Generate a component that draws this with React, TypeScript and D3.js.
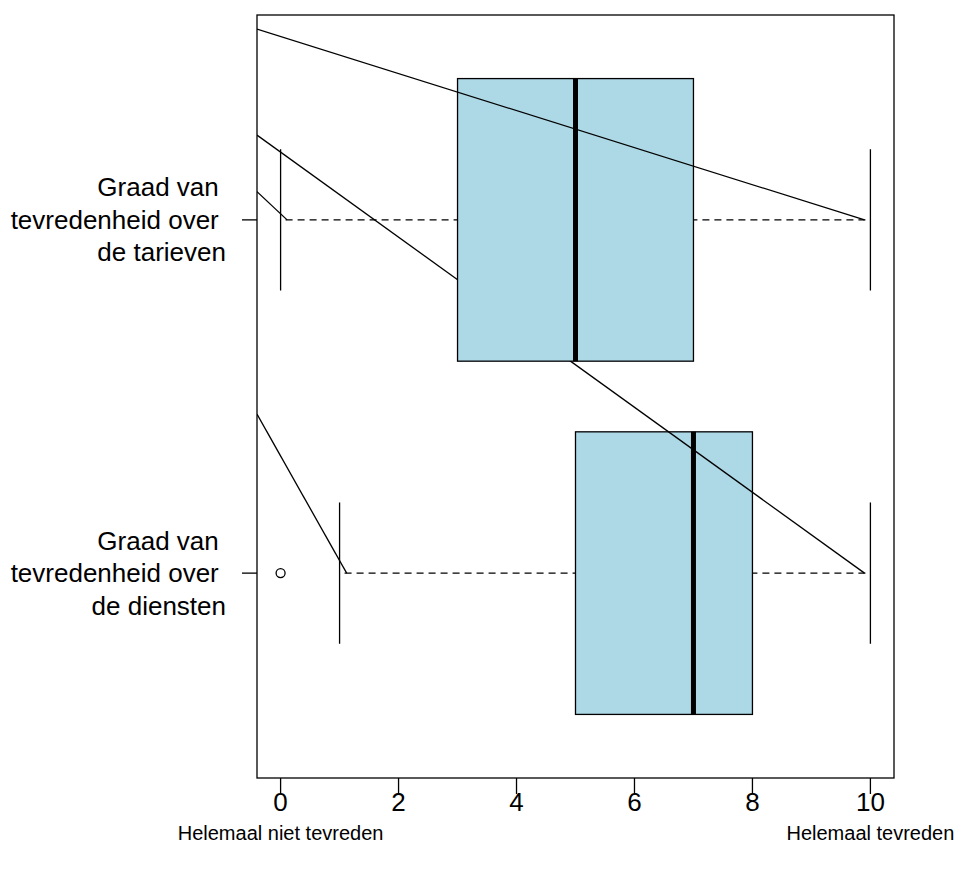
import React from 'react';
import * as d3 from 'd3';

// ---- data ----
const positions = [1, 2];
const labelLines = [
  ['Graad van ', 'tevredenheid over ', 'de diensten'],
  ['Graad van ', 'tevredenheid over ', 'de tarieven'],
];
const whiskerLow = [1, 0];
const q1 = [5, 3];
const medians = [7, 5];
const q3 = [8, 7];
const whiskerHigh = [10, 10];
const outliers = [[0], []];
const xTicks = [0, 2, 4, 6, 8, 10];
const endLabels = ['Helemaal niet tevreden', 'Helemaal tevreden'];
const endLabelValues = [0, 10];
// extra straight segments (data units), drawn after the box of segGroup
const segGroup = [1, 1, 2, 2];
const segX0 = [-0.4, -0.4, -0.4, -0.4];
const segY0 = [2.24, 1.45, 2.54, 2.08];
const segX1 = [9.9, 1.12, 9.9, 0.11];
const segY1 = [1, 1, 2, 2];

const W = 957;
const H = 873;
const FONT = '"Liberation Sans", Arial, Helvetica, sans-serif';

export default function App() {
  const x = d3.scaleLinear().domain([-0.4, 10.4]).range([257, 894]);
  const y = d3.scaleLinear().domain([0.42, 2.58]).range([778, 15]);
  const boxHalf = 0.4;
  const stapleHalf = 0.2;
  const [x0, x1] = x.range();
  const [yb, yt] = y.range();

  const groups = positions.map((p, i) => {
    const cy = y(p);
    const top = y(p + boxHalf);
    const bot = y(p - boxHalf);
    const sTop = y(p + stapleHalf);
    const sBot = y(p - stapleHalf);
    const segs = segGroup
      .map((g, k) => ({ g, k }))
      .filter((s) => s.g === p)
      .map(({ k }) => (
        <line
          key={'s' + k}
          x1={x(segX0[k])}
          y1={y(segY0[k])}
          x2={x(segX1[k])}
          y2={y(segY1[k])}
          stroke="#000"
          strokeWidth={1.3}
        />
      ));
    return (
      <g key={i}>
        <line x1={x(whiskerLow[i])} x2={x(q1[i])} y1={cy} y2={cy} stroke="#000" strokeWidth={1.3} strokeDasharray="7,5" strokeDashoffset={7} />
        <line x1={x(whiskerHigh[i])} x2={x(q3[i])} y1={cy} y2={cy} stroke="#000" strokeWidth={1.3} strokeDasharray="7,5" strokeDashoffset={7} />
        <line x1={x(whiskerLow[i])} x2={x(whiskerLow[i])} y1={sTop} y2={sBot} stroke="#000" strokeWidth={1.3} />
        <line x1={x(whiskerHigh[i])} x2={x(whiskerHigh[i])} y1={sTop} y2={sBot} stroke="#000" strokeWidth={1.3} />
        <rect x={x(q1[i])} y={top} width={x(q3[i]) - x(q1[i])} height={bot - top} fill="#ADD8E6" stroke="#000" strokeWidth={1.3} />
        <line x1={x(medians[i])} x2={x(medians[i])} y1={top} y2={bot} stroke="#000" strokeWidth={5} />
        {outliers[i].map((o, j) => (
          <circle key={j} cx={x(o)} cy={cy} r={4.5} fill="none" stroke="#000" strokeWidth={1.3} />
        ))}
        <g clipPath="url(#plotclip)">{segs}</g>
      </g>
    );
  });

  return (
    <svg width={W} height={H} style={{ position: 'absolute', left: 0, top: 0, background: '#fff' }} fontFamily={FONT}>
      <defs>
        <clipPath id="plotclip">
          <rect x={x0} y={yt} width={x1 - x0} height={yb - yt} />
        </clipPath>
      </defs>
      <rect x={0} y={0} width={W} height={H} fill="#fff" />
      {groups}
      {/* frame */}
      <rect x={x0} y={yt} width={x1 - x0} height={yb - yt} fill="none" stroke="#000" strokeWidth={1.3} />
      {/* x axis */}
      {xTicks.map((t) => (
        <g key={t}>
          <line x1={x(t)} x2={x(t)} y1={yb} y2={yb + 16} stroke="#000" strokeWidth={1.3} />
          <text x={x(t)} y={yb + 24} dominantBaseline="central" textAnchor="middle" fontSize={26}>
            {t}
          </text>
        </g>
      ))}
      {endLabels.map((l, i) => (
        <text key={l} x={x(endLabelValues[i])} y={833} dominantBaseline="central" textAnchor="middle" fontSize={20}>
          {l}
        </text>
      ))}
      {/* y axis */}
      {positions.map((p, i) => (
        <g key={'y' + p}>
          <line x1={x0 - 15} x2={x0} y1={y(p)} y2={y(p)} stroke="#000" strokeWidth={1.3} />
          {labelLines[i].map((ln, k) => (
            <text
              key={k}
              x={226}
              y={y(p) + (k - 1) * 32.5}
              dominantBaseline="central"
              textAnchor="end"
              fontSize={26}
              xmlSpace="preserve"
              style={{ whiteSpace: 'pre' }}
            >
              {ln}
            </text>
          ))}
        </g>
      ))}
    </svg>
  );
}
